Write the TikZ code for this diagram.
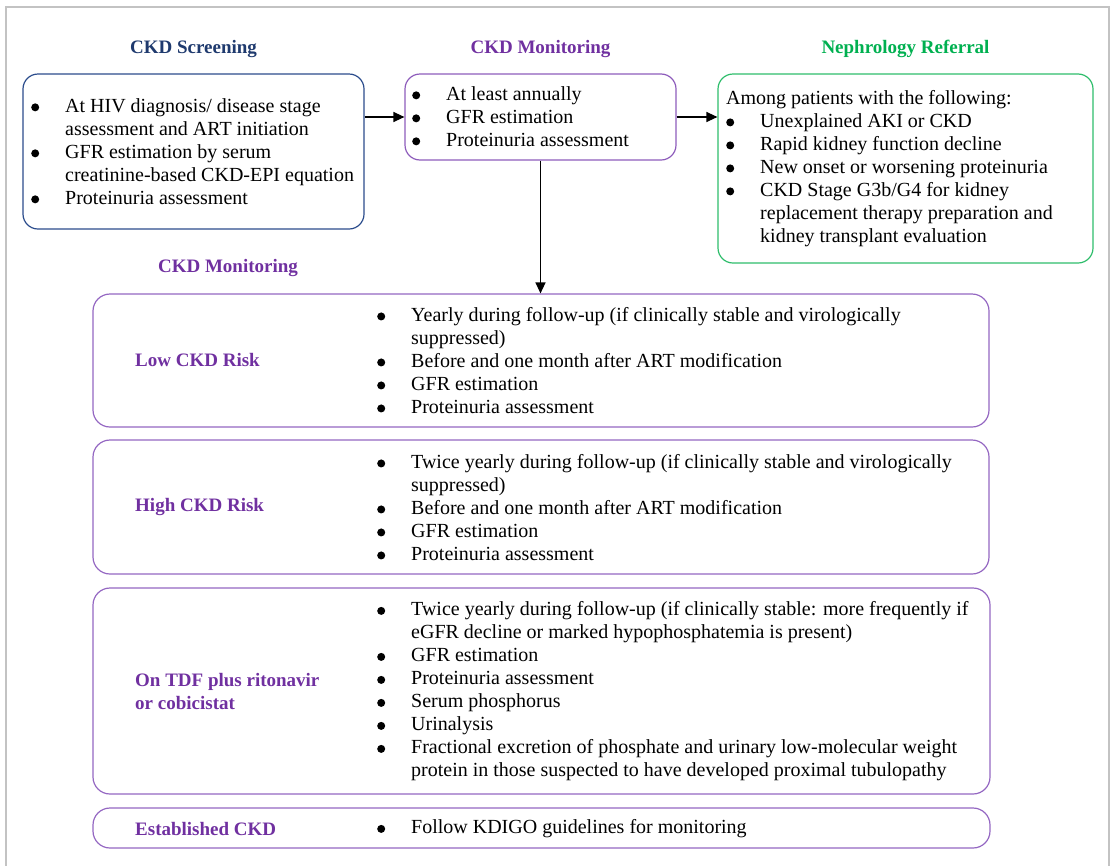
\documentclass[tikz,border=0pt]{standalone}
\usepackage{fontspec}
\setmainfont{Liberation Serif}
\usepackage{xcolor}
\usetikzlibrary{arrows.meta, positioning}

\definecolor{ckdnavy}{HTML}{1F3A6E}
\definecolor{ckdnavyline}{HTML}{2B4C8C}
\definecolor{ckdpurple}{HTML}{7030A0}
\definecolor{ckdpurpleline}{HTML}{9467C2}
\definecolor{ckdgreen}{HTML}{00B050}
\definecolor{ckdgreenline}{HTML}{2EBD6B}
\definecolor{framegray}{HTML}{C3C3C3}

\newcommand{\bul}{\makebox[34pt][l]{\tikz[baseline=0pt, x=1pt, y=1pt]\fill (4,5) circle [radius=4pt];}}
\newcommand{\ind}{\hspace*{34pt}}

\begin{document}
\begin{tikzpicture}[
    x=1pt, y=-1pt,
    box/.style={rectangle, draw, rounded corners=15pt, line width=1.2pt, inner sep=0pt},
    bodytext/.style={align=left, inner sep=0pt, anchor=west, font=\fontsize{20}{23}\selectfont},
    title/.style={inner sep=0pt, font=\fontsize{19}{23}\selectfont\bfseries},
    risk/.style={title, anchor=west, align=left, text=ckdpurple},
    arrow/.style={-{Triangle[length=11pt,width=10pt]}, line width=1.3pt}
]

\useasboundingbox (0,0) rectangle (1110,865);
\draw[framegray, line width=2pt] (5.5,6.5) rectangle (1108.5,880);

% Top row
\node[box, draw=ckdnavyline, minimum width=341pt, minimum height=155pt] (screen) at (193.5,151.5) {};
\node[box, draw=ckdpurpleline!80!ckdpurple, minimum width=271pt, minimum height=86pt] (monA) at (540.5,117) {};
\node[box, draw=ckdgreenline, minimum width=375pt, minimum height=189pt] (refer) at (905.5,168.5) {};

\node[title, text=ckdnavy, above=15.5pt of screen] (screentitle) {CKD Screening};
\node[title, text=ckdpurple, above=15.5pt of monA] (montitle) {CKD Monitoring};
\node[title, text=ckdgreen, above=15.5pt of refer] (refertitle) {Nephrology Referral};

\node[bodytext] (screentext) at (31,151.5) {\bul At HIV diagnosis/ disease stage\\
\ind assessment and ART initiation\\
\bul GFR estimation by serum\\
\ind creatinine-based CKD-EPI equation\\
\bul Proteinuria assessment};

\node[bodytext] (montext) at (412,116.5) {\bul At least annually\\
\bul GFR estimation\\
\bul Proteinuria assessment};

\node[bodytext] (refertext) at (726,168.5) {Among patients with the following:\\
\bul Unexplained AKI or CKD\\
\bul Rapid kidney function decline\\
\bul New onset or worsening proteinuria\\
\bul CKD Stage G3b/G4 for kidney\\
\ind replacement therapy preparation and\\
\ind kidney transplant evaluation};

\draw[arrow] (screen.east |- monA.west) -- (monA.west);
\draw[arrow] (monA.east) -- (refer.west |- monA.east);

% Monitoring by risk
\node[title, text=ckdpurple] (risktitle) at (228,268) {CKD Monitoring};

\node[box, draw=ckdpurpleline, rounded corners=17pt, minimum width=896pt, minimum height=133pt] (low) at (541,360.5) {};
\node[box, draw=ckdpurpleline, rounded corners=17pt, minimum width=896pt, minimum height=134pt] (high) at (541,507) {};
\node[box, draw=ckdpurpleline, rounded corners=17pt, minimum width=897pt, minimum height=206pt] (tdf) at (541.5,691) {};
\node[box, draw=ckdpurpleline, rounded corners=17pt, minimum width=897pt, minimum height=40pt] (est) at (541.5,828) {};

\draw[arrow] (monA.south) -- (monA.south |- low.north);

\node[risk] (lowlabel) at (135,360) {Low CKD Risk};
\node[risk] (highlabel) at (135,507) {High CKD Risk};
\node[risk] (tdflabel) at (135,691.5) {On TDF plus ritonavir\\or cobicistat};
\node[risk] (estlabel) at (135,829) {Established CKD};

\node[bodytext] (lowtext) at (377,360.5) {\bul Yearly during follow-up (if clinically stable and virologically\\
\ind suppressed)\\
\bul Before and one month after ART modification\\
\bul GFR estimation\\
\bul Proteinuria assessment};

\node[bodytext] (hightext) at (377,507.5) {\bul Twice yearly during follow-up (if clinically stable and virologically\\
\ind suppressed)\\
\bul Before and one month after ART modification\\
\bul GFR estimation\\
\bul Proteinuria assessment};

\node[bodytext] (tdftext) at (377,691.5) {\bul Twice yearly during follow-up (if clinically stable: more frequently if\\
\ind eGFR decline or marked hypophosphatemia is present)\\
\bul GFR estimation\\
\bul Proteinuria assessment\\
\bul Serum phosphorus\\
\bul Urinalysis\\
\bul Fractional excretion of phosphate and urinary low-molecular weight\\
\ind protein in those suspected to have developed proximal tubulopathy};

\node[bodytext] (esttext) at (377,829) {\bul Follow KDIGO guidelines for monitoring};

\end{tikzpicture}
\end{document}
